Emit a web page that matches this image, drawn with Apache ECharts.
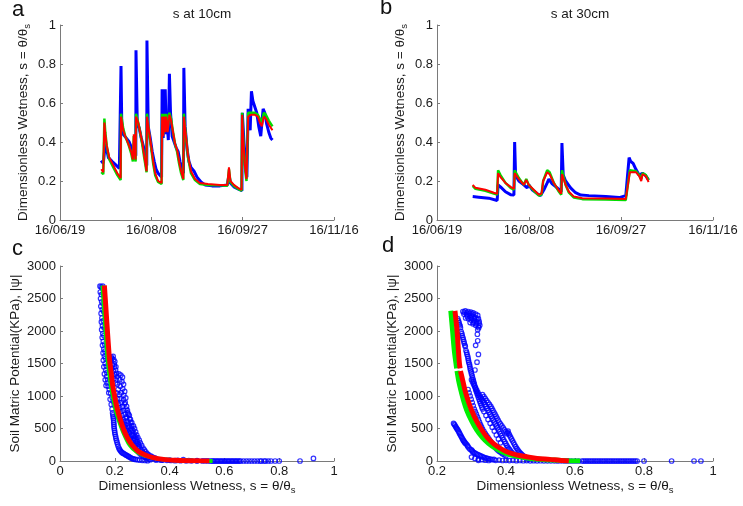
<!DOCTYPE html>
<html>
<head>
<meta charset="utf-8">
<script src="https://cdn.jsdelivr.net/npm/echarts@6/dist/echarts.min.js"></script>
<style>
  html, body { margin: 0; padding: 0; background: #fff; }
  #chart { width: 743px; height: 506px; }
</style>
</head>
<body>
<div id="chart"></div>
<script>
// x of the time panels = days since 16/06/19
const dateTicks = ['16/06/19', '16/08/08', '16/09/27', '16/11/16']

// s at 10cm
const a10Blue = [[22.5,0.305],[23.7,0.29],[24.3,0.28],[24.8,0.39],[25.6,0.36],[26.5,0.32],[28.6,0.30],[30.8,0.28],[32.5,0.265],[33.3,0.26],[33.4,0.79],[33.8,0.50],[34.6,0.44],[36.3,0.42],[37.9,0.40],[39.6,0.36],[40.6,0.35],[41.5,0.33],[41.6,0.87],[42.3,0.50],[43.4,0.47],[44.5,0.42],[45.6,0.38],[46.6,0.33],[47.5,0.28],[47.6,0.92],[48.3,0.48],[49.4,0.42],[50.5,0.35],[51.6,0.30],[52.6,0.26],[53.7,0.24],[55.6,0.22],[55.9,0.67],[56.5,0.42],[56.8,0.67],[57.4,0.46],[57.6,0.67],[58.2,0.44],[58.8,0.48],[59.3,0.41],[59.9,0.75],[60.5,0.55],[61.4,0.43],[62.5,0.40],[63.6,0.37],[64.7,0.35],[65.7,0.30],[66.8,0.26],[67.6,0.24],[67.8,0.78],[68.5,0.48],[69.6,0.36],[70.6,0.30],[71.7,0.27],[73.4,0.25],[75.0,0.22],[77.2,0.195],[79.4,0.18],[83.2,0.175],[87.6,0.175],[91.6,0.18],[92.5,0.23],[93.3,0.19],[95.2,0.17],[97.4,0.16],[99.6,0.15],[99.8,0.55],[100.6,0.42],[101.5,0.28],[102.3,0.22],[103.0,0.57],[103.6,0.58],[104.1,0.46],[104.8,0.66],[105.6,0.61],[106.6,0.60],[107.7,0.55],[108.8,0.48],[109.9,0.43],[110.5,0.42],[111.2,0.57],[112.1,0.55],[113.2,0.49],[114.3,0.45],[115.4,0.42],[116.3,0.41]]
const a10Green = [[22.6,0.245],[23.7,0.235],[24.3,0.52],[24.8,0.45],[25.6,0.38],[27.0,0.31],[29.2,0.27],[31.4,0.23],[33.2,0.205],[33.4,0.545],[34.6,0.47],[35.7,0.43],[37.4,0.39],[39.0,0.34],[39.9,0.30],[40.4,0.43],[40.9,0.34],[41.4,0.30],[41.6,0.545],[42.8,0.50],[43.9,0.45],[45.0,0.39],[46.1,0.32],[47.4,0.245],[47.6,0.545],[48.8,0.44],[49.9,0.37],[51.0,0.29],[52.1,0.23],[53.7,0.195],[55.6,0.185],[55.9,0.545],[56.5,0.44],[57.0,0.545],[57.6,0.46],[58.2,0.545],[58.9,0.46],[59.9,0.55],[60.8,0.52],[61.9,0.45],[63.0,0.39],[64.1,0.35],[65.2,0.29],[66.3,0.24],[67.5,0.205],[67.8,0.545],[68.7,0.45],[70.1,0.32],[71.7,0.24],[73.9,0.205],[76.6,0.185],[81.0,0.18],[87.6,0.178],[91.6,0.175],[92.5,0.26],[93.3,0.195],[95.2,0.175],[97.4,0.16],[99.4,0.15],[99.7,0.55],[100.4,0.40],[101.2,0.27],[102.1,0.20],[103.0,0.55],[104.5,0.55],[106.6,0.55],[108.3,0.54],[109.4,0.52],[110.5,0.50],[111.6,0.55],[112.7,0.54],[114.3,0.51],[116.3,0.48]]
const a10Red = [[22.6,0.26],[23.7,0.245],[24.3,0.50],[24.8,0.44],[25.6,0.38],[27.0,0.32],[29.2,0.28],[31.4,0.24],[33.2,0.215],[33.4,0.53],[34.6,0.46],[35.7,0.43],[37.4,0.39],[39.0,0.35],[39.9,0.31],[40.4,0.44],[40.9,0.35],[41.4,0.31],[41.6,0.53],[42.8,0.50],[43.9,0.45],[45.0,0.40],[46.1,0.33],[47.4,0.25],[47.6,0.53],[48.8,0.45],[49.9,0.38],[51.0,0.30],[52.1,0.24],[53.7,0.20],[55.6,0.19],[55.9,0.53],[56.5,0.43],[57.0,0.53],[57.6,0.45],[58.2,0.53],[58.9,0.45],[59.9,0.54],[60.8,0.51],[61.9,0.45],[63.0,0.39],[64.1,0.36],[65.2,0.30],[66.3,0.25],[67.5,0.21],[67.8,0.53],[68.7,0.45],[70.1,0.33],[71.7,0.25],[73.9,0.21],[76.6,0.19],[81.0,0.185],[87.6,0.18],[91.6,0.18],[92.5,0.27],[93.3,0.20],[95.2,0.18],[97.4,0.165],[99.4,0.155],[99.7,0.54],[100.4,0.40],[101.2,0.28],[102.1,0.21],[103.0,0.53],[104.5,0.54],[106.6,0.54],[108.3,0.53],[109.4,0.50],[110.5,0.48],[111.6,0.53],[112.7,0.52],[114.3,0.49],[116.3,0.46]]

// s at 30cm
const b30Blue = [[19.4,0.12],[22.7,0.117],[28.1,0.112],[32.7,0.10],[33.2,0.18],[34.5,0.17],[37.2,0.145],[40.0,0.13],[41.8,0.128],[42.2,0.40],[42.7,0.23],[44.5,0.20],[47.2,0.18],[49.0,0.165],[49.9,0.18],[51.7,0.155],[54.5,0.135],[56.3,0.125],[58.1,0.155],[59.9,0.19],[60.8,0.21],[62.6,0.185],[65.3,0.165],[67.5,0.145],[67.9,0.395],[68.6,0.23],[69.9,0.20],[72.6,0.165],[75.3,0.14],[78.1,0.128],[82.6,0.125],[91.7,0.12],[99.0,0.115],[102.6,0.125],[103.5,0.12],[104.4,0.32],[105.3,0.30],[106.6,0.29],[108.1,0.26],[109.9,0.23],[110.8,0.22],[111.7,0.24],[113.2,0.23],[115.0,0.205]]
const b30Green = [[19.4,0.175],[20.9,0.16],[26.3,0.15],[30.9,0.135],[32.7,0.13],[33.2,0.255],[34.5,0.23],[37.2,0.19],[40.0,0.165],[41.8,0.155],[42.2,0.255],[44.5,0.215],[47.2,0.18],[48.5,0.21],[49.9,0.18],[52.6,0.15],[55.4,0.125],[56.8,0.13],[57.7,0.20],[58.6,0.19],[59.9,0.255],[61.2,0.245],[63.5,0.19],[65.9,0.15],[67.5,0.13],[67.9,0.255],[69.9,0.18],[71.7,0.14],[74.4,0.115],[79.0,0.107],[91.7,0.105],[102.6,0.102],[103.5,0.105],[104.8,0.255],[108.1,0.25],[109.9,0.23],[111.0,0.21],[111.7,0.24],[113.5,0.23],[115.0,0.205]]
const b30Red = [[19.4,0.18],[20.9,0.165],[26.3,0.155],[30.9,0.14],[32.7,0.135],[33.2,0.24],[34.5,0.22],[37.2,0.19],[40.0,0.17],[41.8,0.16],[42.2,0.24],[44.5,0.21],[47.2,0.18],[48.5,0.205],[49.9,0.18],[52.6,0.155],[55.4,0.13],[56.8,0.135],[57.7,0.20],[58.6,0.19],[59.9,0.245],[61.2,0.235],[63.5,0.19],[65.9,0.155],[67.5,0.135],[67.9,0.235],[69.9,0.18],[71.7,0.145],[74.4,0.12],[79.0,0.112],[91.7,0.11],[102.6,0.108],[103.5,0.11],[104.8,0.245],[108.1,0.245],[109.9,0.225],[111.0,0.20],[111.7,0.235],[113.5,0.225],[115.0,0.195]]

// |psi| against s, 10cm: measured points and the two fitted curves
const c10Obs = [[0.146,2690],[0.150,2680],[0.153,2660],[0.147,2600],[0.151,2560],[0.148,2500],[0.152,2450],[0.149,2380],[0.154,2330],[0.150,2270],[0.153,2200],[0.151,2140],[0.155,2080],[0.152,2020],[0.156,1960],[0.154,1900],[0.158,1840],[0.155,1780],[0.160,1720],[0.157,1660],[0.162,1610],[0.158,1550],[0.165,1500],[0.160,1450],[0.167,1400],[0.162,1340],[0.170,1300],[0.165,1250],[0.172,1200],[0.168,1160],
  [0.156,2690],[0.158,2580],[0.157,2420],[0.159,2300],[0.158,2160],[0.161,2050],[0.160,1930],[0.163,1800],[0.164,1690],[0.166,1580],[0.169,1460],[0.171,1360],[0.174,1250],[0.176,1150],[0.178,1050],[0.183,950],[0.187,870],[0.190,800],
  [0.175,1600],[0.182,1590],[0.190,1580],[0.196,1560],[0.200,1530],[0.185,1540],[0.178,1500],[0.192,1480],[0.199,1450],[0.203,1400],[0.188,1420],[0.195,1380],[0.201,1330],[0.197,1270],[0.205,1250],
  [0.180,1560],[0.187,1600],[0.194,1610],[0.198,1490],[0.204,1450],[0.206,1350],[0.208,1300],[0.203,1200],[0.209,1180],[0.212,1100],[0.207,1050],[0.216,1020],[0.219,960],
  [0.215,1340],[0.222,1320],[0.228,1290],[0.218,1250],[0.226,1220],[0.232,1180],[0.220,1150],[0.229,1110],[0.236,1070],[0.224,1050],[0.233,1010],[0.240,970],
  [0.180,1100],[0.185,1040],[0.190,980],[0.194,920],[0.198,860],[0.205,900],[0.210,960],[0.214,880],[0.218,820],[0.222,760],[0.212,800],[0.226,700],[0.230,640],[0.238,900],[0.243,840],[0.246,780],[0.250,720],[0.244,680],[0.254,650],[0.258,600],[0.234,600],[0.240,560],[0.248,520],[0.256,480],[0.262,540],[0.266,470],[0.270,420],[0.262,400],[0.274,380],[0.278,340],[0.252,440],[0.245,470],[0.236,520],[0.228,560],[0.220,620],[0.210,700],[0.258,350],[0.268,320],[0.282,300],[0.286,260],[0.290,220],[0.276,250],[0.295,180],[0.300,150],[0.285,190],[0.305,120],[0.312,100],[0.298,110],[0.320,80],[0.330,60],[0.315,50],[0.340,40],[0.350,30],[0.325,30],[0.360,20],[0.375,15],[0.390,10],[0.405,8],[0.420,5],[0.440,4],[0.460,3],[0.480,2],[0.500,2],[0.520,1],[0.540,1],
  [0.232,940],[0.236,880],[0.241,800],[0.247,740],[0.253,700],[0.257,640],[0.262,590],[0.268,540],[0.272,500],[0.276,450],[0.280,400],[0.284,360],[0.289,320],[0.293,280],[0.298,240],[0.303,200],[0.308,170],[0.313,140],[0.318,115],[0.324,95],[0.332,75],[0.338,60],[0.346,50],
  [0.225,900],[0.229,840],[0.233,780],[0.238,720],[0.242,660],[0.246,610],[0.250,570],[0.255,530],[0.260,500],[0.264,450],[0.268,390],[0.272,350],[0.277,300],[0.281,270],[0.286,230],
  [0.215,740],[0.219,680],[0.224,620],[0.229,570],[0.233,530],[0.238,480],[0.243,430],[0.247,400],[0.251,370],[0.255,330],[0.260,300],[0.265,270],[0.270,230],[0.275,200],[0.280,170],[0.286,140],[0.292,110],[0.298,90],[0.305,70],[0.312,55],[0.320,45],
  [0.33,20],[0.35,15],[0.37,12],[0.40,15],[0.43,10],[0.45,20],[0.47,8],[0.50,5],[0.53,3],[0.55,0],[0.555,0],
  [0.192,740],[0.194,680],[0.196,620],[0.197,560],[0.198,500],[0.200,440],[0.203,380],[0.206,320],[0.210,260],[0.215,200],[0.220,160],[0.226,130],[0.234,110],[0.242,90],[0.250,70],[0.258,50],[0.266,35],[0.275,25],[0.290,15],[0.300,10],[0.310,8],[0.320,5],
  [0.193,710],[0.195,650],[0.196,590],[0.197,530],[0.199,470],[0.201,410],[0.204,350],[0.208,290],[0.212,230],[0.217,180],[0.223,145],[0.230,120],[0.238,100],[0.246,80],[0.254,60],[0.262,42],[0.270,30],[0.282,20],
  [0.56,0],[0.565,0],[0.57,0],[0.575,0],[0.58,0],[0.585,0],[0.59,0],[0.595,0],[0.60,0],[0.605,0],[0.61,0],[0.615,0],[0.62,0],[0.625,0],[0.63,0],[0.635,0],[0.64,0],[0.645,0],[0.65,0],[0.655,0],[0.66,0],[0.67,0],[0.68,0],[0.69,0],[0.70,0],[0.71,0],[0.72,0],[0.73,0],[0.735,0],[0.745,0],[0.75,0],[0.76,0],[0.77,0],[0.785,0],[0.80,0],[0.876,0],[0.925,40]]
const c10Green = [[0.155,2700],[0.161,2320],[0.167,1940],[0.174,1554],[0.181,1300],[0.188,1100],[0.203,785],[0.215,620],[0.228,470],[0.254,246],[0.28,140],[0.305,90],[0.34,48],[0.38,22],[0.43,10],[0.49,3],[0.557,0]]
const c10Red = [[0.162,2700],[0.168,2320],[0.174,1940],[0.181,1550],[0.187,1350],[0.192,1170],[0.200,980],[0.210,785],[0.220,640],[0.233,477],[0.247,350],[0.263,246],[0.285,150],[0.311,92],[0.34,52],[0.378,25],[0.42,12],[0.47,5],[0.51,2],[0.545,0]]

// |psi| against s, 30cm
const d30Obs = [[0.275,2300],[0.282,2310],[0.290,2300],[0.298,2290],[0.305,2280],[0.312,2260],[0.318,2240],[0.278,2260],[0.286,2250],[0.294,2240],[0.302,2230],[0.310,2210],[0.320,2190],[0.283,2200],[0.291,2190],[0.299,2170],[0.307,2160],[0.315,2140],[0.322,2120],[0.296,2130],[0.304,2110],[0.312,2090],[0.320,2070],[0.318,2020],
  [0.279,2290],[0.287,2280],[0.295,2270],[0.303,2260],[0.300,2200],[0.308,2190],[0.316,2180],[0.306,2130],[0.314,2110],[0.322,2150],[0.324,2090],[0.321,2050],[0.288,2220],[0.297,2210],
  [0.317,1950],[0.318,1850],[0.312,1780],[0.320,1640],[0.316,1520],[0.310,1400],
  [0.262,2160],[0.265,2100],[0.268,2050],[0.270,1990],[0.273,1930],[0.276,1870],[0.279,1810],[0.282,1760],[0.284,1700],[0.287,1640],[0.290,1580],[0.292,1520],[0.295,1460],[0.297,1400],[0.300,1340],[0.303,1280],[0.306,1220],[0.309,1160],[0.312,1100],[0.316,1040],[0.320,980],[0.324,920],[0.328,860],[0.332,800],
  [0.260,2190],[0.264,2130],[0.267,2080],[0.272,1960],[0.275,1900],[0.278,1840],[0.281,1780],[0.286,1670],[0.289,1610],[0.291,1550],[0.294,1490],[0.296,1430],[0.299,1370],[0.302,1310],[0.305,1250],[0.308,1190],[0.311,1130],[0.314,1070],[0.318,1010],[0.322,950],[0.326,890],[0.330,830],[0.336,760],[0.342,700],[0.348,640],[0.354,580],[0.360,520],[0.366,460],[0.372,400],[0.378,340],[0.384,280],
  [0.300,1250],[0.306,1180],[0.312,1120],[0.318,1060],[0.324,1000],[0.330,950],[0.336,900],[0.342,840],[0.348,780],[0.354,720],[0.360,660],[0.366,600],[0.372,540],[0.378,480],[0.384,420],[0.390,360],[0.396,300],[0.402,240],[0.408,190],[0.414,150],[0.420,110],
  [0.303,1215],[0.309,1150],[0.315,1090],[0.321,1030],[0.327,975],[0.333,925],[0.339,870],[0.345,810],[0.351,750],[0.357,690],[0.363,630],[0.369,570],[0.375,510],[0.381,450],[0.387,390],[0.393,330],[0.399,270],[0.405,215],[0.411,170],[0.417,130],
  [0.332,1020],[0.340,960],[0.348,900],[0.356,840],[0.362,780],[0.368,720],[0.374,660],[0.380,600],[0.388,540],[0.396,480],[0.402,420],[0.406,460],[0.410,400],[0.416,340],[0.422,280],[0.428,220],[0.434,170],[0.440,130],[0.446,100],[0.452,70],[0.458,50],[0.465,30],
  [0.336,990],[0.344,930],[0.352,870],[0.359,810],[0.365,750],[0.371,690],[0.377,630],[0.384,570],[0.392,510],[0.399,450],[0.404,440],[0.408,420],[0.413,370],[0.419,310],[0.425,250],[0.431,195],[0.437,150],[0.443,115],[0.449,85],[0.455,60],
  [0.290,1100],[0.296,1000],[0.302,900],[0.308,800],[0.314,720],[0.320,640],[0.326,560],[0.332,490],[0.340,420],[0.348,360],[0.356,300],[0.364,240],[0.372,190],[0.380,150],[0.390,110],[0.400,80],
  [0.293,1050],[0.299,950],[0.305,850],[0.311,760],[0.317,680],[0.323,600],[0.329,525],[0.336,455],[0.344,390],[0.352,330],[0.360,270],[0.368,215],[0.376,170],[0.385,130],[0.395,95],
  [0.248,580],[0.252,550],[0.256,510],[0.260,480],[0.264,440],[0.268,400],[0.272,360],[0.276,320],[0.280,290],[0.285,260],[0.290,220],[0.296,180],[0.300,170],[0.304,140],[0.310,120],[0.318,100],[0.326,80],[0.334,60],[0.342,45],[0.350,35],
  [0.250,565],[0.254,530],[0.258,495],[0.262,460],[0.266,420],[0.270,380],[0.274,340],[0.278,305],[0.282,275],[0.288,240],[0.293,200],[0.302,155],[0.307,130],[0.314,110],[0.322,90],[0.330,70],[0.338,52],[0.346,40],[0.355,30],[0.365,25],
  [0.30,60],[0.31,40],[0.32,30],[0.33,20],[0.36,20],[0.38,15],[0.40,10],[0.42,10],[0.44,8],[0.46,6],[0.48,5],[0.50,4],[0.52,3],[0.54,2],[0.56,2],[0.58,1],
  [0.32,10],[0.34,12],[0.35,8],[0.37,10],[0.39,8],[0.41,6],[0.43,5],[0.45,4],[0.47,3],[0.49,3],[0.51,2],[0.53,2],[0.55,1],[0.57,1],[0.59,0],[0.60,0],[0.61,0],
  [0.62,0],[0.625,0],[0.63,0],[0.635,0],[0.64,0],[0.645,0],[0.65,0],[0.655,0],[0.66,0],[0.665,0],[0.67,0],[0.675,0],[0.68,0],[0.685,0],[0.69,0],[0.695,0],[0.70,0],[0.705,0],[0.71,0],[0.715,0],[0.72,0],[0.725,0],[0.73,0],[0.735,0],[0.74,0],[0.745,0],[0.75,0],[0.755,0],[0.76,0],[0.765,0],[0.77,0],[0.775,0],[0.78,0],[0.80,0],[0.88,0],[0.945,0],[0.965,0]]
const d30Green = [[0.240,2310],[0.245,2015],[0.250,1708],[0.255,1500],[0.257,1425],'-',[0.258,1385],[0.263,1230],[0.269,1092],[0.277,930],[0.286,785],[0.300,620],[0.315,477],[0.332,360],[0.349,272],[0.368,200],[0.388,143],[0.41,100],[0.441,66],[0.48,35],[0.53,15],[0.57,5],[0.615,0]]
const d30Red = [[0.252,2310],[0.258,2015],[0.262,1708],[0.265,1500],[0.267,1425],'-',[0.268,1385],[0.275,1230],[0.281,1092],[0.290,930],[0.300,785],[0.314,620],[0.330,477],[0.346,360],[0.363,272],[0.382,200],[0.402,143],[0.43,95],[0.46,66],[0.49,40],[0.527,25],[0.555,10],[0.582,0]]

const FONT = 'Liberation Sans, Arial, sans-serif'
const axisGrey = '#7a7a7a'

const wetName = '{m|Dimensionless Wetness, s = θ/θ}{s|s}'
const nameRich = {
  m: { fontSize: 13.5, fontFamily: FONT, color: '#1a1a1a', lineHeight: 18 },
  s: { fontSize: 9.5, fontFamily: FONT, color: '#1a1a1a', lineHeight: 9, verticalAlign: 'bottom' }
}

const baseAxis = (extra) => Object.assign({
  type: 'value',
  axisLine: { show: true, lineStyle: { color: axisGrey } },
  axisTick: { show: true, inside: true, length: 3, lineStyle: { color: axisGrey } },
  axisLabel: { color: '#1a1a1a', fontSize: 13, fontFamily: FONT, margin: 4, showMaxLabel: true, showMinLabel: true,
    formatter: v => String(Math.round(v * 1000) / 1000) },
  splitLine: { show: false },
  nameLocation: 'middle',
  nameTextStyle: { rich: nameRich, fontSize: 13.5, fontFamily: FONT, color: '#1a1a1a' }
}, extra)

const dateAxis = (gridIndex) => baseAxis({
  gridIndex, min: 0, max: 150, interval: 50,
  axisLabel: { color: '#1a1a1a', fontSize: 13, fontFamily: FONT, margin: 4,
    formatter: v => dateTicks[Math.round(v / 50)] }
})

const lineSeries = (data, color, width, x, y, smooth) => ({
  type: 'line', data, xAxisIndex: x, yAxisIndex: y,
  showSymbol: false, symbol: 'none', smooth: smooth || false,
  lineStyle: { color, width }, itemStyle: { color },
  connectNulls: false, animation: false
})

const obsSeries = (data, x, y) => ({
  type: 'scatter', data, xAxisIndex: x, yAxisIndex: y,
  symbol: 'circle', symbolSize: 4.5,
  itemStyle: { color: 'rgba(0,0,0,0)', borderColor: '#0000ff', borderWidth: 1.2 },
  animation: false
})

const chart = echarts.init(document.getElementById('chart'), null, { renderer: 'canvas' })

const option = {
  backgroundColor: '#ffffff',
  animation: false,
  title: [
    { text: 's at 10cm', left: 197, top: 2, textAlign: 'center',
      textStyle: { fontSize: 13.5, fontWeight: 'normal', fontFamily: FONT, color: '#1a1a1a' } },
    { text: 's at 30cm', left: 575, top: 2, textAlign: 'center',
      textStyle: { fontSize: 13.5, fontWeight: 'normal', fontFamily: FONT, color: '#1a1a1a' } }
  ],
  graphic: [
    { type: 'text', left: 12, top: -1, style: { text: 'a', font: '22px ' + FONT, fill: '#111' } },
    { type: 'text', left: 380, top: -3, style: { text: 'b', font: '22px ' + FONT, fill: '#111' } },
    { type: 'text', left: 12, top: 238, style: { text: 'c', font: '22px ' + FONT, fill: '#111' } },
    { type: 'text', left: 382, top: 235, style: { text: 'd', font: '22px ' + FONT, fill: '#111' } }
  ],
  grid: [
    { left: 60, top: 25, width: 274, height: 195 },
    { left: 437, top: 25, width: 276, height: 195 },
    { left: 60, top: 266, width: 274, height: 195 },
    { left: 437, top: 266, width: 276, height: 195 }
  ],
  xAxis: [
    dateAxis(0),
    dateAxis(1),
    baseAxis({ gridIndex: 2, min: 0, max: 1, interval: 0.2, name: wetName, nameGap: 14 }),
    baseAxis({ gridIndex: 3, min: 0.2, max: 1, interval: 0.2, name: wetName, nameGap: 14 })
  ],
  yAxis: [
    baseAxis({ gridIndex: 0, min: 0, max: 1, interval: 0.2, name: wetName, nameGap: 28 }),
    baseAxis({ gridIndex: 1, min: 0, max: 1, interval: 0.2, name: wetName, nameGap: 28 }),
    baseAxis({ gridIndex: 2, min: 0, max: 3000, interval: 500, name: 'Soil Matric Potential(KPa), |ψ|', nameGap: 38 }),
    baseAxis({ gridIndex: 3, min: 0, max: 3000, interval: 500, name: 'Soil Matric Potential(KPa), |ψ|', nameGap: 38 })
  ],
  series: [
    lineSeries(a10Blue, '#0000ff', 3, 0, 0),
    lineSeries(a10Green, '#00dd00', 2.5, 0, 0),
    lineSeries(a10Red, '#ff0000', 2, 0, 0),
    lineSeries(b30Blue, '#0000ff', 3, 1, 1),
    lineSeries(b30Green, '#00dd00', 2.5, 1, 1),
    lineSeries(b30Red, '#ff0000', 2, 1, 1),
    obsSeries(c10Obs, 2, 2),
    lineSeries(c10Green, '#00ee00', 4, 2, 2, 0.3),
    lineSeries(c10Red, '#ff0000', 5, 2, 2, 0.3),
    obsSeries(d30Obs, 3, 3),
    lineSeries(d30Green, '#00ee00', 5, 3, 3, 0.3),
    lineSeries(d30Red, '#ff0000', 5, 3, 3, 0.3)
  ]
}

chart.setOption(option)
window.addEventListener('resize', () => chart.resize())
</script>
</body>
</html>
